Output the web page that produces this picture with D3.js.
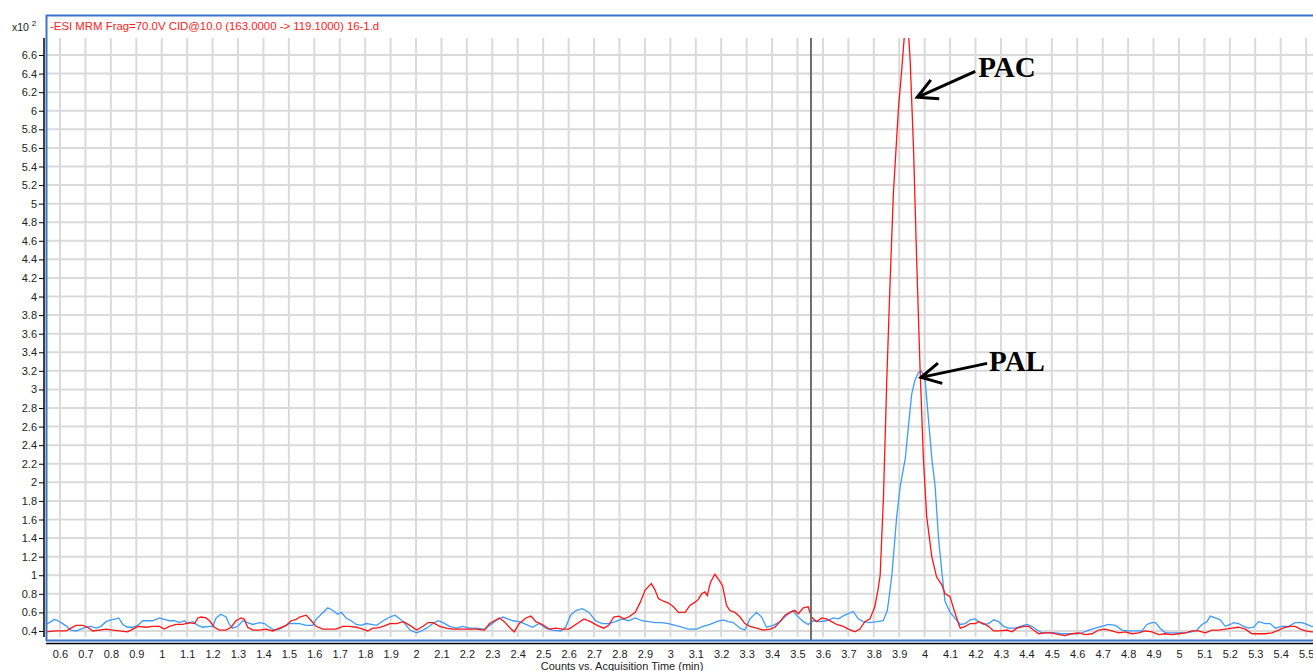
<!DOCTYPE html>
<html>
<head>
<meta charset="utf-8">
<script src="https://cdn.jsdelivr.net/npm/d3@7"></script>
<style>
  body { margin: 0; background: #fff; }
  svg { display: block; font-family: "Liberation Sans", Arial, sans-serif; }
</style>
</head>
<body>
<svg id="chart" width="1313" height="671"></svg>
<script>
// retention time (min) and counts (x10^2)
var redTime = [0.545,0.584,0.624,0.643,0.663,0.689,0.709,0.729,0.755,0.781,0.807,0.833,0.866,0.886,0.906,0.938,0.965,0.991,
  1.010,1.030,1.056,1.083,1.109,1.129,1.142,1.155,1.174,1.188,1.207,1.227,1.253,1.273,1.292,1.312,1.325,1.338,1.358,1.384,
  1.411,1.437,1.463,1.489,1.509,1.529,1.542,1.568,1.588,1.607,1.633,1.660,1.686,1.712,1.738,1.765,1.791,1.810,1.830,
  1.845,1.871,1.897,1.923,1.950,1.976,2.002,2.028,2.047,2.067,2.093,2.119,2.145,2.178,2.210,2.236,2.269,2.289,2.308,2.328,
  2.347,2.367,2.386,2.406,2.432,2.452,2.471,2.497,2.523,2.549,2.575,2.601,2.628,2.660,2.686,2.712,2.738,2.758,2.777,2.797,
  2.817,2.836,2.862,2.882,2.901,2.925,2.940,2.953,2.973,2.993,3.012,3.032,3.058,3.077,3.097,3.110,3.123,3.136,3.145,3.158,
  3.175,3.188,3.205,3.221,3.234,3.254,3.274,3.293,3.313,3.339,3.365,3.392,3.411,3.431,3.451,3.470,3.490,3.503,3.523,3.542,
  3.555,3.575,3.595,3.614,3.634,3.654,3.680,3.700,3.726,3.745,3.765,3.785,3.804,3.817,3.825,3.838,3.851,3.864,3.877,3.897,
  3.910,3.920,3.928,3.936,3.943,3.956,3.969,3.982,3.995,4.008,4.028,4.047,4.067,4.080,4.100,4.115,4.133,4.140,4.160,4.179,
  4.199,4.212,4.232,4.251,4.271,4.297,4.324,4.343,4.363,4.389,4.409,4.428,4.448,4.474,4.500,4.527,4.553,4.579,4.605,4.632,
  4.658,4.684,4.710,4.736,4.763,4.789,4.815,4.841,4.867,4.894,4.920,4.946,4.972,4.999,5.025,5.051,5.077,5.103,5.130,5.156,
  5.182,5.208,5.234,5.261,5.287,5.313,5.339,5.365,5.392,5.418,5.438,5.457,5.477,5.497,5.521,5.530];
var redCounts = [0.39,0.40,0.40,0.43,0.46,0.46,0.44,0.40,0.41,0.42,0.41,0.40,0.39,0.42,0.45,0.44,0.45,0.45,
  0.42,0.45,0.47,0.47,0.49,0.48,0.54,0.55,0.54,0.51,0.44,0.41,0.41,0.44,0.51,0.54,0.525,0.44,0.41,0.41,
  0.42,0.40,0.43,0.46,0.51,0.525,0.55,0.57,0.51,0.45,0.42,0.42,0.42,0.45,0.45,0.44,0.42,0.40,0.43,
  0.43,0.45,0.48,0.48,0.50,0.46,0.41,0.45,0.49,0.49,0.45,0.43,0.42,0.42,0.42,0.42,0.41,0.48,0.51,0.54,
  0.50,0.44,0.39,0.48,0.54,0.56,0.50,0.47,0.42,0.43,0.42,0.42,0.47,0.53,0.50,0.46,0.43,0.46,0.55,0.56,
  0.53,0.55,0.60,0.71,0.84,0.91,0.84,0.75,0.72,0.70,0.66,0.60,0.60,0.675,0.71,0.74,0.80,0.82,0.78,0.925,
  1.01,0.96,0.89,0.675,0.62,0.60,0.55,0.48,0.45,0.43,0.41,0.42,0.44,0.50,0.57,0.60,0.62,0.585,0.65,0.66,
  0.55,0.50,0.54,0.53,0.50,0.47,0.45,0.42,0.39,0.42,0.50,0.53,0.66,0.85,1.0,1.84,3.1,4.15,5.11,6.03,
  6.45,6.8,6.95,6.85,6.54,5.61,4.35,3.22,2.26,1.63,1.2,0.98,0.9,0.8,0.77,0.63,0.48,0.43,0.45,0.48,
  0.48,0.50,0.48,0.45,0.40,0.40,0.41,0.39,0.43,0.45,0.45,0.41,0.37,0.38,0.38,0.36,0.35,0.37,0.38,0.36,
  0.37,0.41,0.42,0.40,0.38,0.39,0.37,0.38,0.40,0.39,0.36,0.37,0.36,0.37,0.38,0.40,0.40,0.38,0.41,0.41,
  0.42,0.43,0.44,0.42,0.37,0.37,0.37,0.38,0.41,0.44,0.45,0.45,0.42,0.40,0.39,0.39];

var blueTime = [0.545,0.558,0.578,0.591,0.604,0.624,0.643,0.663,0.683,0.702,0.722,0.742,0.761,0.781,0.801,0.820,0.831,0.847,
  0.866,0.886,0.906,0.925,0.945,0.965,0.991,1.010,1.030,1.050,1.070,1.089,1.102,1.122,1.142,1.161,1.188,1.201,1.214,1.233,
  1.253,1.266,1.279,1.299,1.319,1.338,1.358,1.384,1.404,1.424,1.443,1.463,1.483,1.502,1.522,1.542,1.568,1.594,1.607,1.627,
  1.653,1.673,1.692,1.706,1.725,1.745,1.765,1.784,1.804,1.824,1.845,1.871,1.897,1.917,1.937,1.956,1.976,2.002,2.021,2.041,
  2.067,2.086,2.106,2.132,2.158,2.184,2.210,2.236,2.269,2.289,2.315,2.341,2.360,2.380,2.406,2.432,2.458,2.484,2.510,2.536,
  2.569,2.588,2.608,2.628,2.654,2.680,2.706,2.732,2.758,2.784,2.810,2.836,2.862,2.888,2.914,2.940,2.966,2.993,3.019,3.045,
  3.071,3.103,3.129,3.156,3.182,3.208,3.228,3.247,3.274,3.293,3.313,3.339,3.359,3.378,3.405,3.431,3.457,3.483,3.496,3.523,
  3.542,3.562,3.588,3.614,3.641,3.660,3.686,3.719,3.739,3.758,3.785,3.811,3.837,3.853,3.861,3.871,3.890,3.904,3.924,3.936,
  3.949,3.962,3.975,3.986,4.001,4.015,4.028,4.041,4.054,4.067,4.080,4.100,4.125,4.140,4.160,4.179,4.199,4.212,4.232,4.251,
  4.271,4.291,4.310,4.330,4.356,4.376,4.402,4.422,4.442,4.461,4.487,4.514,4.540,4.573,4.599,4.618,4.645,4.671,4.697,4.723,
  4.750,4.776,4.802,4.828,4.854,4.874,4.894,4.907,4.926,4.946,4.972,4.999,5.025,5.051,5.071,5.090,5.110,5.123,5.143,5.162,
  5.182,5.202,5.215,5.234,5.254,5.274,5.293,5.313,5.339,5.359,5.379,5.405,5.431,5.457,5.483,5.503,5.521,5.530];
var blueCounts = [0.47,0.49,0.525,0.51,0.49,0.455,0.41,0.40,0.42,0.44,0.45,0.43,0.45,0.50,0.52,0.53,0.54,0.47,
  0.44,0.44,0.46,0.51,0.51,0.51,0.54,0.525,0.51,0.51,0.49,0.51,0.48,0.50,0.46,0.44,0.45,0.45,0.54,0.58,
  0.55,0.47,0.43,0.45,0.51,0.49,0.47,0.49,0.48,0.44,0.41,0.42,0.45,0.48,0.48,0.48,0.46,0.46,0.525,0.58,
  0.65,0.62,0.58,0.60,0.54,0.51,0.47,0.46,0.48,0.47,0.46,0.51,0.55,0.57,0.53,0.48,0.41,0.38,0.40,0.43,
  0.48,0.51,0.49,0.45,0.43,0.45,0.43,0.43,0.42,0.46,0.51,0.55,0.53,0.51,0.50,0.47,0.44,0.48,0.43,0.41,
  0.40,0.44,0.57,0.62,0.64,0.60,0.51,0.48,0.48,0.50,0.53,0.51,0.54,0.51,0.50,0.49,0.49,0.48,0.46,0.44,
  0.42,0.42,0.45,0.47,0.50,0.52,0.50,0.49,0.43,0.41,0.53,0.60,0.55,0.44,0.46,0.50,0.57,0.62,0.57,0.50,
  0.47,0.51,0.50,0.51,0.54,0.53,0.57,0.61,0.53,0.50,0.49,0.50,0.51,0.62,0.78,1.0,1.63,1.96,2.26,2.6,
  2.95,3.1,3.18,3.2,3.13,2.68,2.26,1.96,1.42,1.05,0.72,0.60,0.52,0.47,0.48,0.52,0.53,0.50,0.47,0.48,
  0.52,0.50,0.45,0.43,0.43,0.45,0.47,0.45,0.41,0.38,0.38,0.38,0.37,0.37,0.37,0.38,0.41,0.43,0.45,0.47,
  0.46,0.41,0.40,0.40,0.40,0.47,0.49,0.49,0.43,0.38,0.38,0.38,0.38,0.39,0.41,0.47,0.50,0.56,0.54,0.52,
  0.45,0.47,0.49,0.48,0.45,0.43,0.44,0.50,0.48,0.48,0.43,0.45,0.45,0.49,0.49,0.47,0.45,0.45];

var xTicks = d3.range(6, 56).map(function (d) { return d / 10; });   // 0.6 .. 5.5
var yTicks = d3.range(2, 34).map(function (d) { return d / 5; });    // 0.4 .. 6.6
var markerTime = 3.553;

var titleText = "-ESI MRM Frag=70.0V CID@10.0 (163.0000 -> 119.1000) 16-1.d";
var xLabel = "Counts vs. Acquisition Time (min)";

var peakNames = ["PAC", "PAL"];
var peakTipTime = [3.971, 3.986];
var peakTipCounts = [6.145, 3.13];

window.addEventListener('load', function () {
    drawChart('chart');
});

var drawChart = function (elm) {
    var svg = d3.select('#' + elm);
    var left = 46, right = 1313, top = 38, bottom = 637;

    var x = d3.scaleLinear().domain([0.545, 5.527]).range([left, right]);
    var y = d3.scaleLinear().domain([0.335, 6.783]).range([bottom, top]);

    // grid
    var grid = svg.append('g').attr('stroke', '#dadada').attr('stroke-width', 2);
    grid.selectAll('line.v').data(xTicks).enter().append('line')
        .attr('class', 'v')
        .attr('x1', function (d) { return x(d); }).attr('x2', function (d) { return x(d); })
        .attr('y1', top).attr('y2', bottom);
    grid.selectAll('line.h').data(yTicks).enter().append('line')
        .attr('class', 'h')
        .attr('x1', left).attr('x2', right)
        .attr('y1', function (d) { return y(d); }).attr('y2', function (d) { return y(d); });

    // traces
    svg.append('clipPath').attr('id', 'plotClip')
        .append('rect').attr('x', left).attr('y', top).attr('width', right - left).attr('height', bottom - top);

    var line = d3.line()
        .x(function (d) { return x(d[0]); })
        .y(function (d) { return y(d[1]); });

    var blueData = d3.zip(blueTime, blueCounts);
    var redData = d3.zip(redTime, redCounts);

    var traces = svg.append('g').attr('clip-path', 'url(#plotClip)');
    traces.append('path').datum(blueData)
        .attr('d', line).attr('fill', 'none')
        .attr('stroke', '#3d9bff').attr('stroke-width', 1.3);
    traces.append('path').datum(redData)
        .attr('d', line).attr('fill', 'none')
        .attr('stroke', '#ff1414').attr('stroke-width', 1.3);

    // marker line
    svg.append('line')
        .attr('x1', x(markerTime)).attr('x2', x(markerTime))
        .attr('y1', top).attr('y2', 640)
        .attr('stroke', '#6e6e6e').attr('stroke-width', 2);

    // frame
    var frame = svg.append('g').attr('fill', 'none').attr('stroke', '#3a74cc').attr('stroke-width', 2);
    frame.append('line').attr('x1', 46.5).attr('x2', 46.5).attr('y1', 15).attr('y2', 641);
    frame.append('line').attr('x1', 46).attr('x2', 1313).attr('y1', 15.5).attr('y2', 15.5);
    frame.append('line').attr('x1', 46).attr('x2', 1313).attr('y1', 640.5).attr('y2', 640.5);

    // y axis
    var yAxis = d3.axisLeft(y).tickValues(yTicks).tickSize(5).tickPadding(2)
        .tickFormat(function (d) { return String(+d.toFixed(1)); });
    var gy = svg.append('g').attr('transform', 'translate(44,0)').call(yAxis);
    gy.select('.domain').attr('d', 'M0,' + top + 'V' + bottom).attr('stroke', '#000').attr('stroke-width', 1.5);
    gy.selectAll('text').attr('font-size', 11).attr('fill', '#222').attr('font-family', '"Liberation Sans", Arial, sans-serif');

    // x axis
    var xAxis = d3.axisBottom(x).tickValues(xTicks).tickSize(0).tickPadding(7)
        .tickFormat(function (d) { return String(+d.toFixed(1)); });
    var gx = svg.append('g').attr('transform', 'translate(0,643.5)').call(xAxis);
    gx.select('.domain').attr('d', 'M46,0H1313').attr('stroke', '#000').attr('stroke-width', 1.5);
    gx.selectAll('text').attr('font-size', 11).attr('fill', '#222').attr('font-family', '"Liberation Sans", Arial, sans-serif');

    svg.append('text')
        .attr('x', x(2.81)).attr('y', 670)
        .attr('text-anchor', 'middle').attr('font-size', 11).attr('fill', '#222')
        .text(xLabel);

    // scale label and title
    var sc = svg.append('text').attr('x', 12).attr('y', 31).attr('font-size', 10.5).attr('fill', '#222');
    sc.append('tspan').text('x10 ');
    sc.append('tspan').attr('dy', -5).attr('font-size', 8).text('2');

    svg.append('text')
        .attr('x', 50).attr('y', 30)
        .attr('font-size', 11.4).attr('fill', '#ff1a1a')
        .text(titleText);

    // peak annotations
    var tails = [[58, -26], [66, -14]];
    var labelOffs = [[61, -20.5], [68, -6.5]];
    var ann = svg.append('g');
    peakNames.forEach(function (name, i) {
        var tx = x(peakTipTime[i]), ty = y(peakTipCounts[i]);
        var ex = tx + tails[i][0], ey = ty + tails[i][1];
        var ang = Math.atan2(ey - ty, ex - tx);
        var len = 22, spread = 28 * Math.PI / 180;
        var b1 = [tx + len * Math.cos(ang - spread), ty + len * Math.sin(ang - spread)];
        var b2 = [tx + len * Math.cos(ang + spread), ty + len * Math.sin(ang + spread)];
        ann.append('path')
            .attr('d', 'M' + ex + ',' + ey + 'L' + tx + ',' + ty +
                'M' + b1[0] + ',' + b1[1] + 'L' + tx + ',' + ty + 'L' + b2[0] + ',' + b2[1])
            .attr('fill', 'none').attr('stroke', '#000').attr('stroke-width', 3)
            .attr('stroke-linejoin', 'miter');
        ann.append('text')
            .attr('x', tx + labelOffs[i][0]).attr('y', ty + labelOffs[i][1])
            .attr('font-family', '"Liberation Serif", "Times New Roman", serif')
            .attr('font-weight', 'bold').attr('font-size', 29).attr('fill', '#000')
            .text(name);
    });
};
</script>
</body>
</html>
